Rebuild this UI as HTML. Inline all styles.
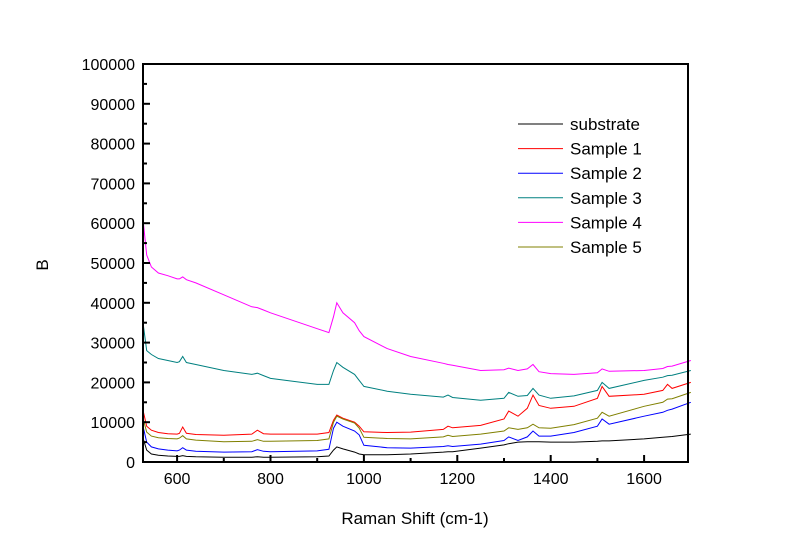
<!DOCTYPE html>
<html><head><meta charset="utf-8"><style>
body{margin:0;background:#fff}
svg text{font-family:"Liberation Sans",sans-serif;fill:#000}
</style></head><body>
<svg id="chart" width="800" height="555">
<g id="plot"></g>
</svg>
<script>
const xVals=[527,535,545,560,580,600,605,612,620,640,700,760,772,785,800,900,925,935,942,955,980,990,1000,1050,1100,1170,1180,1190,1250,1300,1310,1330,1350,1362,1375,1400,1450,1500,1510,1525,1600,1640,1650,1660,1700];
const substrate=[6000,3000,2000,1700,1500,1400,1400,1600,1400,1300,1200,1200,1300,1200,1200,1300,1500,3000,3800,3300,2500,2000,1800,1800,2000,2500,2600,2600,3500,4300,4600,5000,5100,5100,5100,5000,5000,5200,5300,5300,5800,6200,6300,6400,7000];
const sample1=[13000,9000,8000,7400,7100,7000,7200,8800,7200,6900,6700,7000,8000,7100,7000,7000,7400,10500,11800,11000,10000,9000,7600,7400,7500,8200,9000,8600,9200,10800,12800,11500,13500,16800,14200,13500,14000,16000,19000,16500,17000,18000,19500,18500,20000];
const sample2=[9000,5000,3800,3300,3000,2800,3000,3600,3000,2700,2500,2600,3100,2700,2600,2800,3200,8500,10000,9000,7800,6800,4200,3600,3500,3900,4100,3900,4500,5400,6300,5400,6300,7800,6500,6500,7400,9000,10800,9500,11500,12500,13000,13300,15000];
const sample3=[35000,28000,27000,26000,25500,25000,25200,26500,25000,24500,23000,22000,22300,21700,21000,19500,19500,23000,25000,23800,22000,20500,19000,17800,17000,16300,16800,16200,15500,16000,17500,16500,16700,18500,16800,16000,16600,18000,20000,18500,20500,21300,21700,21800,23000];
const sample4=[61000,52000,49000,47500,46800,46000,46000,46500,45800,45000,42000,39000,38800,38200,37500,33500,32500,36500,40000,37500,35000,33000,31500,28500,26500,24800,24500,24300,23000,23200,23600,23000,23400,24500,22700,22200,22000,22400,23400,22800,23000,23500,24000,24100,25500];
const sample5=[11000,7500,6500,6100,5900,5800,6000,6600,5800,5500,5100,5200,5600,5200,5200,5400,5800,10000,11500,10800,9800,8500,6200,5900,5800,6300,6700,6400,7000,7800,8600,8200,8600,9500,8600,8500,9400,11000,12500,11500,14000,15000,15800,15900,17500];
const seriesNames=["substrate","Sample 1","Sample 2","Sample 3","Sample 4","Sample 5"];
const seriesData=[substrate,sample1,sample2,sample3,sample4,sample5];
const seriesColors=["#000000","#ff0000","#0000ff","#008080","#ff00ff","#808000"];
const xTicks=[600,800,1000,1200,1400,1600];
const yTicks=[0,10000,20000,30000,40000,50000,60000,70000,80000,90000,100000];

const NS="http://www.w3.org/2000/svg";
const L=143,R=688,T=64,B=462,XMIN=527,XMAX=1694,YMAX=100000;
const sx=v=>L+(v-XMIN)/(XMAX-XMIN)*(R-L);
const sy=v=>B-v/YMAX*(B-T);
const g=document.getElementById('plot');
function mk(tag,attrs){const e=document.createElementNS(NS,tag);for(const k in attrs)e.setAttribute(k,attrs[k]);g.appendChild(e);return e;}

seriesData.forEach((d,i)=>{
  const p=mk('polyline',{points:xVals.map((x,j)=>sx(x).toFixed(1)+','+sy(d[j]).toFixed(1)).join(' '),fill:'none',stroke:seriesColors[i],'stroke-width':1});
  
  
});

const fr=mk('rect',{x:L,y:T,width:R-L,height:B-T,fill:'none',stroke:'#000','stroke-width':2});



yTicks.forEach(v=>{
  const y=sy(v);
  mk('line',{x1:L,x2:L+7,y1:y,y2:y,stroke:'#000','stroke-width':2});
  if(v<YMAX){mk('line',{x1:L,x2:L+4,y1:sy(v+5000),y2:sy(v+5000),stroke:'#000','stroke-width':2});}
  const t=mk('text',{x:L-8,y:y+6,'text-anchor':'end','font-size':16});
  t.textContent=v;
  
  
});
for(let v=600;v<=1690;v+=100){
  const x=sx(v),major=v%200===0;
  mk('line',{x1:x,x2:x,y1:B,y2:B-(major?7:4),stroke:'#000','stroke-width':2});
}
xTicks.forEach(v=>{
  const t=mk('text',{x:sx(v),y:B+22,'text-anchor':'middle','font-size':16});
  t.textContent=v;
  
  
});
const xt=mk('text',{x:415,y:524,'text-anchor':'middle','font-size':17});
xt.textContent='Raman Shift (cm-1)';


const yt=mk('text',{x:48,y:265,'text-anchor':'middle','font-size':17,transform:'rotate(-90 48 265)'});
yt.textContent='B';



seriesNames.forEach((n,i)=>{
  const y=124+i*24.6;
  const ln=mk('line',{x1:518,x2:563,y1:y,y2:y,stroke:seriesColors[i],'stroke-width':1});
  
  
  const t=mk('text',{x:570,y:y+6,'font-size':17});
  t.textContent=n;
  
  
});
</script>
</body></html>
